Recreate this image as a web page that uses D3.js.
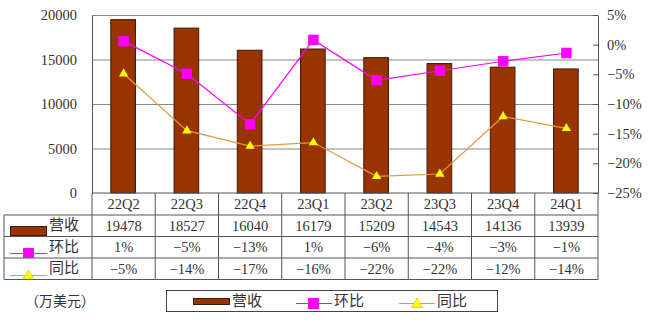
<!DOCTYPE html>
<html>
<head>
<meta charset="utf-8">
<script src="https://cdn.jsdelivr.net/npm/d3@7/dist/d3.min.js"></script>
<style>
  html, body { margin: 0; padding: 0; background: #fff; }
  svg text { font-family: "Liberation Serif", "Noto Sans CJK SC", serif; fill: #333; }
</style>
</head>
<body>
<svg id="chart" width="651" height="323"></svg>
<script>
const categories = ["22Q2","22Q3","22Q4","23Q1","23Q2","23Q3","23Q4","24Q1"];
const revenue = [19478,18527,16040,16179,15209,14543,14136,13939];
const qoqPlot = [0.6,-4.9,-13.4,0.8,-6.0,-4.4,-2.8,-1.4];
const yoyPlot = [-4.9,-14.5,-17.1,-16.5,-22.2,-21.8,-12.1,-14.1];
const qoqLabels = ["1%","\u22125%","\u221213%","1%","\u22126%","\u22124%","\u22123%","\u22121%"];
const yoyLabels = ["\u22125%","\u221214%","\u221217%","\u221216%","\u221222%","\u221222%","\u221212%","\u221214%"];
const leftTicks = [0,5000,10000,15000,20000];
const rightTicks = [5,0,-5,-10,-15,-20,-25];
const seriesNames = ["营收","环比","同比"];
const unitLabel = "（万美元）";

const L = 92, R = 598, T = 15, B = 193;
const rowY = [193, 215, 236.5, 258, 279.5];
const BAR = "#993300", MAG = "#FF00FF", ORG = "#E39A3D", TRI = "#FFFF00", LINE = "#555";

const svg = d3.select("#chart");
const x = d3.scaleBand().domain(categories).range([L, R]).padding(0);
const yL = d3.scaleLinear().domain([0, 20000]).range([B, T]);
const yR = d3.scaleLinear().domain([-25, 5]).range([B, T]);
const fmtPct = v => (v < 0 ? "\u2212" + Math.abs(v) : v) + "%";

// gridlines
svg.append("g").attr("transform", `translate(${L},0)`)
  .call(d3.axisLeft(yL).tickValues([5000,10000,15000,20000]).tickSize(-(R - L)).tickFormat(""))
  .call(g => g.select(".domain").remove())
  .call(g => g.selectAll("line").attr("stroke", "#888").attr("stroke-width", 1));

// bars
const bw = x.bandwidth() * 0.39;
svg.append("g").selectAll("rect").data(revenue).join("rect")
  .attr("x", (d, i) => x(categories[i]) + x.bandwidth() / 2 - bw / 2 - 0.5)
  .attr("y", d => yL(d))
  .attr("width", bw)
  .attr("height", d => B - yL(d))
  .attr("fill", BAR).attr("stroke", "#3a1a0a").attr("stroke-width", 1);

// left axis
svg.append("g").attr("transform", `translate(${L},0)`)
  .call(d3.axisLeft(yL).tickValues(leftTicks).tickSize(0).tickSizeOuter(0).tickPadding(15).tickFormat(d3.format("d")))
  .call(g => g.select(".domain").attr("stroke", LINE))
  .call(g => g.selectAll("text").attr("font-size", 14.5).style("font-family", "'Liberation Serif', serif").attr("fill", "#333"));

// right axis
svg.append("g").attr("transform", `translate(${R},0)`)
  .call(d3.axisRight(yR).tickValues(rightTicks).tickSize(-5).tickSizeOuter(0).tickPadding(9).tickFormat(fmtPct))
  .call(g => g.select(".domain").attr("stroke", LINE))
  .call(g => g.selectAll("line").attr("stroke", LINE))
  .call(g => g.selectAll("text").attr("font-size", 14.5).style("font-family", "'Liberation Serif', serif").attr("fill", "#333"));

// lines
const cx = (d, i) => x(categories[i]) + x.bandwidth() / 2;
const lineQ = d3.line().x((d, i) => cx(d, i)).y(d => yR(d));
svg.append("path").datum(qoqPlot).attr("d", lineQ).attr("fill", "none").attr("stroke", MAG).attr("stroke-width", 1.2);
svg.append("path").datum(yoyPlot).attr("d", lineQ).attr("fill", "none").attr("stroke", ORG).attr("stroke-width", 1.2);

const sq = 10.5;
svg.append("g").selectAll("rect").data(qoqPlot).join("rect")
  .attr("x", (d, i) => cx(d, i) - sq / 2).attr("y", d => yR(d) - sq / 2)
  .attr("width", sq).attr("height", sq).attr("fill", MAG);

const tri = d3.symbol().type(d3.symbolTriangle).size(38);
svg.append("g").selectAll("path").data(yoyPlot).join("path")
  .attr("d", tri)
  .attr("transform", (d, i) => `translate(${cx(d, i)},${yR(d)})`)
  .attr("fill", TRI);

// x axis baseline
svg.append("line").attr("x1", L).attr("x2", R).attr("y1", B).attr("y2", B).attr("stroke", LINE);

// table
const tbl = svg.append("g").attr("stroke", LINE).attr("stroke-width", 1);
x.domain().concat(["__end"]).forEach((c, i) => {
  const xx = i < categories.length ? x(c) : R;
  tbl.append("line").attr("x1", xx).attr("x2", xx).attr("y1", rowY[0]).attr("y2", rowY[4]);
});
[1, 2, 3, 4].forEach(r => tbl.append("line").attr("x1", 4).attr("x2", R).attr("y1", rowY[r]).attr("y2", rowY[r]));
tbl.append("line").attr("x1", 4).attr("x2", 4).attr("y1", rowY[1]).attr("y2", rowY[4]);

const rowText = [categories, revenue.map(String), qoqLabels, yoyLabels];
rowText.forEach((arr, r) => {
  svg.append("g").selectAll("text").data(arr).join("text")
    .attr("x", (d, i) => x(categories[i]) + x.bandwidth() / 2)
    .attr("y", (rowY[r] + rowY[r + 1]) / 2)
    .attr("dy", "0.35em")
    .attr("text-anchor", "middle")
    .attr("font-size", 14.5)
    .text(d => d);
});

// table legend keys
const k = svg.append("g");
k.append("rect").attr("x", 10.5).attr("y", 226.5).attr("width", 36).attr("height", 9).attr("fill", BAR).attr("stroke", "#3a1a0a");
k.append("line").attr("x1", 10).attr("x2", 47).attr("y1", 253.5).attr("y2", 253.5).attr("stroke", MAG).attr("stroke-width", 1.2);
k.append("rect").attr("x", 23).attr("y", 248).attr("width", 11).attr("height", 10).attr("fill", MAG);
k.append("line").attr("x1", 10).attr("x2", 47).attr("y1", 275.5).attr("y2", 275.5).attr("stroke", ORG).attr("stroke-width", 1.2);
k.append("path").attr("d", "M28.5,270 L34,279 L23,279 Z").attr("fill", TRI).attr("stroke", "#C8A000").attr("stroke-width", 0.5);
seriesNames.forEach((s, r) => {
  k.append("text").attr("x", 49).attr("y", (rowY[r + 1] + rowY[r + 2]) / 2 - 1).attr("dy", "0.35em")
    .attr("font-size", 15).style("font-family", "'Noto Sans CJK SC', sans-serif").attr("fill", "#444").text(s);
});

// unit label
svg.append("text").attr("x", 25).attr("y", 301).attr("dy", "0.35em").attr("font-size", 14)
  .style("font-family", "'Noto Sans CJK SC', sans-serif").attr("fill", "#444").text(unitLabel);

// legend
const lg = svg.append("g");
lg.append("rect").attr("x", 166.5).attr("y", 290.5).attr("width", 331).attr("height", 21)
  .attr("fill", "#fff").attr("stroke", "#444");
lg.append("rect").attr("x", 193.5).attr("y", 298.5).attr("width", 36).attr("height", 6).attr("fill", BAR).attr("stroke", "#3a1a0a");
lg.append("line").attr("x1", 296).attr("x2", 332).attr("y1", 303.5).attr("y2", 303.5).attr("stroke", MAG).attr("stroke-width", 1.2);
lg.append("rect").attr("x", 308).attr("y", 298).attr("width", 11).attr("height", 11).attr("fill", MAG);
lg.append("line").attr("x1", 399).attr("x2", 435).attr("y1", 303.5).attr("y2", 303.5).attr("stroke", ORG).attr("stroke-width", 1.2);
lg.append("path").attr("d", "M417,298 L422.5,307.5 L411.5,307.5 Z").attr("fill", TRI).attr("stroke", "#C8A000").attr("stroke-width", 0.5);
[[232, 0], [334, 1], [437, 2]].forEach(([xx, i]) => {
  lg.append("text").attr("x", xx).attr("y", 301).attr("dy", "0.35em").attr("font-size", 15)
    .style("font-family", "'Noto Sans CJK SC', sans-serif").attr("fill", "#444").text(seriesNames[i]);
});
</script>
</body>
</html>
